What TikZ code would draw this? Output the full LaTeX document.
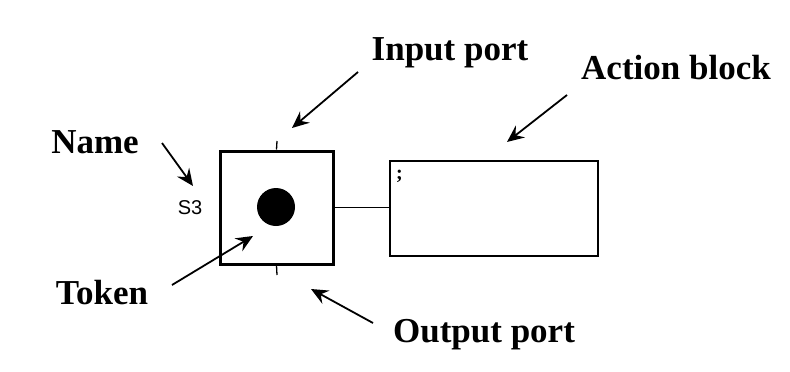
\documentclass[tikz,border=0pt]{standalone}
\usepackage{fontspec}
\setmainfont{Liberation Serif}
\newfontfamily\sfname{Liberation Sans}
\usetikzlibrary{arrows.meta}
\begin{document}
\begin{tikzpicture}[x=1pt,y=-1pt,
  lbl/.style={font=\fontsize{35}{40}\selectfont\bfseries, inner sep=0pt, anchor=base},
  pointer/.style={line width=1.8pt, -{Stealth[length=17pt,width=15pt,inset=6pt]}},
  stepbox/.style={draw, line width=3pt, minimum width=113pt, minimum height=113pt, inner sep=0pt},
  actbox/.style={draw, line width=1.4pt, minimum width=208pt, minimum height=95pt, inner sep=0pt},
  tokendot/.style={circle, fill=black, minimum size=38pt, inner sep=0pt},
  wire/.style={line width=1.3pt}]
\fill[white] (0,0) rectangle (790,372);
\useasboundingbox (0,0) rectangle (790,372);
% step
\node[stepbox] (step) at (276.5,207.5) {};
\node[tokendot] (token) at (276,207) {};
\coordinate (inport) at (277,141);
\coordinate (outport) at (277,275);
\draw[wire] (step.north) -- (inport);
\draw[wire] (step.south) -- (outport);
\node[font=\sfname\fontsize{20}{22}\selectfont, inner sep=0pt] (name) at (190,208) {S3};
% action block
\node[actbox] (act) at (494,208.5) {};
\node[font=\fontsize{20}{22}\selectfont\bfseries, inner sep=0pt, anchor=north west] (semi) at (396,170) {;};
\draw[wire] (step.east) -- (step.east -| act.west);
% labels
\node[lbl] (linput) at (450,60) {Input port};
\node[lbl] (laction) at (676,79) {Action block};
\node[lbl] (lname) at (95,153) {Name};
\node[lbl] (ltoken) at (102,304) {Token};
\node[lbl] (loutput) at (484,342) {Output port};
% arrows
\coordinate (a1s) at (358,72);  \coordinate (a1e) at (292,128);
\coordinate (a2s) at (567,95);  \coordinate (a2e) at (507,142);
\coordinate (a3s) at (162,143); \coordinate (a3e) at (193,186);
\coordinate (a4s) at (172,285); \coordinate (a4e) at (253,236);
\coordinate (a5s) at (373,323); \coordinate (a5e) at (311,289);
\draw[pointer] (a1s) -- (a1e);
\draw[pointer] (a2s) -- (a2e);
\draw[pointer] (a3s) -- (a3e);
\draw[pointer] (a4s) -- (a4e);
\draw[pointer] (a5s) -- (a5e);
\end{tikzpicture}
\end{document}
